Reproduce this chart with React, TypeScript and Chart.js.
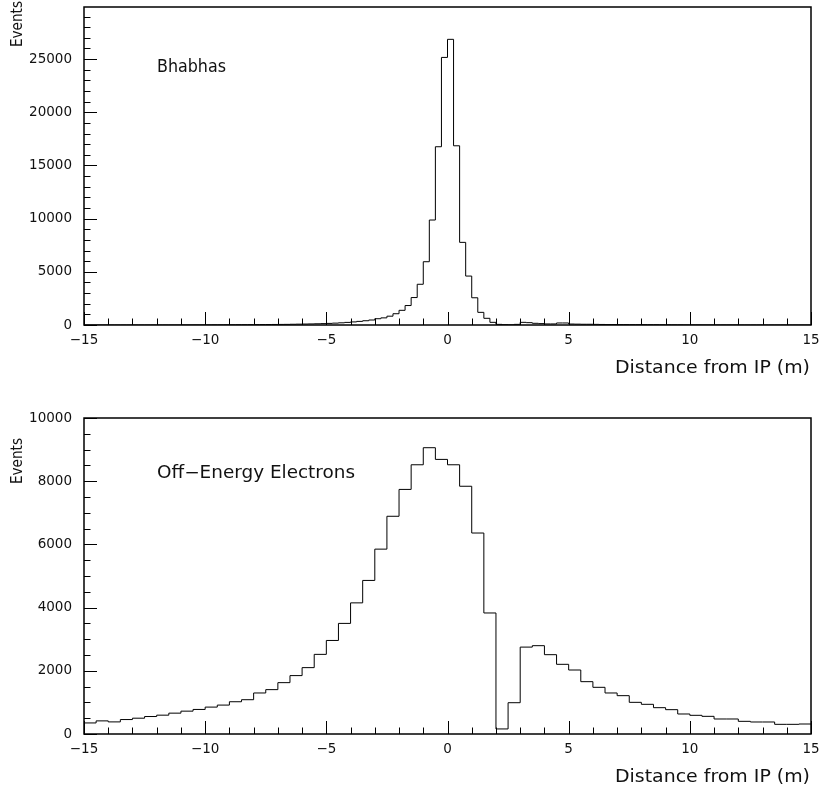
import React, { useEffect, useRef } from "react";
import { Chart, registerables } from "chart.js";

Chart.register(...registerables);

// ---------------- data ----------------
const X_MIN = -15;
const X_MAX = 15;
const xTickLabels = [-15, -10, -5, 0, 5, 10, 15];
const xAxisTitle = "Distance from IP (m)";
const yAxisTitle = "Events";

// Bhabhas: 120 bins of 0.25 m from -15 to 15
const bhabhaCounts = [
  0, 0, 0, 0, 0, 0, 0, 0, 0, 0, 0, 0, 0, 0, 0, 0, 5, 5, 8, 8,
  10, 15, 15, 20, 20, 25, 25, 30, 35, 40, 45, 50, 55, 60, 70, 80, 90, 100, 115, 130,
  150, 175, 205, 245, 290, 340, 400, 470,
  590, 670, 830, 1060, 1380, 1830, 2580, 3830, 5950, 9870, 16760, 25160, 26860, 16850, 7770, 4600, 2560, 1190, 630, 250,
  60, 30, 20, 60, 250, 220, 160, 130, 100, 100, 190, 190, 90, 80, 70, 70, 60, 50, 40, 40,
  35, 35, 30, 30, 30, 25, 25, 20,
  20, 15, 15, 10, 10, 10, 5, 5,
  5, 5, 5, 5, 0, 0, 0, 0, 0, 0, 0, 0, 0, 0, 0, 0,
];
const bhabhaYTicks = [0, 5000, 10000, 15000, 20000, 25000];
const bhabhaYMax = 29900;
const bhabhaLabel = "Bhabhas";

// Off-energy electrons: 60 bins of 0.5 m from -15 to 15
const offEnergyCounts = [
  350, 415, 383, 457, 500, 553, 596, 660, 723, 777,
  851, 915, 1021, 1085, 1298, 1404, 1625, 1848, 2100, 2520,
  2960, 3500, 4150, 4860, 5850, 6890, 7740, 8520, 9060, 8690,
  8520, 7840, 6360, 3830, 160, 990, 2750, 2795, 2510, 2205,
  2025, 1656, 1477, 1298, 1213, 1002, 939, 833, 770, 633,
  591, 559, 475, 475, 401, 380, 380, 306, 306, 316,
];
const offEnergyYTicks = [0, 2000, 4000, 6000, 8000, 10000];
const offEnergyYMax = 10000;
const offEnergyLabel = "Off\u2212Energy Electrons";

// ---------------- helpers ----------------
const FONT = '"DejaVu Sans", "Liberation Sans", sans-serif';
const fmt = (v: number) => (v < 0 ? "\u2212" + Math.abs(v) : String(v));

function fitText(
  ctx: CanvasRenderingContext2D,
  text: string,
  x: number,
  y: number,
  size: number,
  targetWidth: number,
  align: "left" | "right" | "center",
  rotate = false
) {
  ctx.save();
  ctx.font = `${size}px ${FONT}`;
  const w = ctx.measureText(text).width;
  const sx = targetWidth > 0 ? targetWidth / w : 1;
  ctx.translate(x, y);
  if (rotate) ctx.rotate(-Math.PI / 2);
  ctx.scale(sx, 1);
  ctx.textAlign = align;
  ctx.textBaseline = "middle";
  ctx.fillStyle = "#111";
  ctx.fillText(text, 0, 0);
  ctx.restore();
}

const hbookPlugin = {
  id: "hbook",
  afterDraw(chart: any, _args: any, o: any) {
    const { ctx, chartArea: a } = chart;
    const xs = chart.scales.x;
    const ys = chart.scales.y;
    ctx.save();
    ctx.strokeStyle = "#000";
    ctx.lineWidth = 1;
    ctx.beginPath();
    for (let v = X_MIN; v <= X_MAX; v += 1) {
      const px = Math.round(xs.getPixelForValue(v)) + 0.5;
      const len = v % 5 === 0 ? 13 : 6.5;
      ctx.moveTo(px, a.bottom);
      ctx.lineTo(px, a.bottom - len);
    }
    for (let v = 0; v <= o.yMax; v += o.yMinor) {
      const py = Math.round(ys.getPixelForValue(v)) + 0.5;
      const len = v % o.yMajor === 0 ? 13 : 6.5;
      ctx.moveTo(a.left, py);
      ctx.lineTo(a.left + len, py);
    }
    ctx.stroke();
    ctx.lineWidth = 1.5;
    ctx.strokeRect(a.left, a.top, a.right - a.left, a.bottom - a.top);
    ctx.restore();

    // tick labels
    ctx.save();
    ctx.fillStyle = "#111";
    ctx.font = `13.5px ${FONT}`;
    ctx.textBaseline = "middle";
    ctx.textAlign = "center";
    for (const v of xTickLabels) {
      ctx.fillText(fmt(v), xs.getPixelForValue(v), a.bottom + 15);
    }
    ctx.textAlign = "right";
    for (const v of o.yTicks) {
      ctx.fillText(String(v), a.left - 12, ys.getPixelForValue(v));
    }
    ctx.restore();

    // titles
    fitText(ctx, xAxisTitle, a.right - 1, a.bottom + 43, 18, 195, "right");
    fitText(ctx, yAxisTitle, 18, o.eventsY, 16, 46, "center", true);
    fitText(ctx, o.label, 157, o.labelY, 17, o.labelW, "left");
  },
};

type HistProps = {
  counts: number[];
  yMax: number;
  yTicks: number[];
  yMajor: number;
  yMinor: number;
  label: string;
  labelY: number;
  labelW: number;
  eventsY: number;
  padTop: number;
  padBottom: number;
  height: number;
};

function Hist(p: HistProps) {
  const ref = useRef<HTMLCanvasElement | null>(null);
  useEffect(() => {
    if (!ref.current) return;
    const n = p.counts.length;
    const w = (X_MAX - X_MIN) / n;
    const pts = p.counts.map((c, i) => ({ x: X_MIN + i * w, y: c }));
    pts.push({ x: X_MAX, y: p.counts[n - 1] });
    const chart = new Chart(ref.current, {
      type: "line",
      data: {
        datasets: [
          {
            data: pts,
            stepped: true,
            borderColor: "#000",
            borderWidth: 1,
            pointRadius: 0,
            fill: false,
          },
        ],
      },
      options: {
        animation: false,
        responsive: false,
        layout: { padding: { left: 84, right: 8, top: p.padTop, bottom: p.padBottom } },
        scales: {
          x: { type: "linear", min: X_MIN, max: X_MAX, display: false },
          y: { type: "linear", min: 0, max: p.yMax, display: false },
        },
        plugins: {
          legend: { display: false },
          tooltip: { enabled: false },
          hbook: {
            yMax: p.yMax,
            yTicks: p.yTicks,
            yMajor: p.yMajor,
            yMinor: p.yMinor,
            label: p.label,
            labelY: p.labelY,
            labelW: p.labelW,
            eventsY: p.eventsY,
          },
        } as any,
      },
      plugins: [hbookPlugin],
    });
    return () => chart.destroy();
  }, []);
  return <canvas ref={ref} width={819} height={p.height} style={{ display: "block" }} />;
}

export default function App() {
  return (
    <div style={{ position: "absolute", left: 0, top: 0, width: 819, height: 788, background: "#fff" }}>
      <Hist
        counts={bhabhaCounts}
        yMax={bhabhaYMax}
        yTicks={bhabhaYTicks}
        yMajor={5000}
        yMinor={1000}
        label={bhabhaLabel}
        labelY={68}
        labelW={69}
        eventsY={24}
        padTop={7}
        padBottom={69}
        height={394}
      />
      <Hist
        counts={offEnergyCounts}
        yMax={offEnergyYMax}
        yTicks={offEnergyYTicks}
        yMajor={2000}
        yMinor={500}
        label={offEnergyLabel}
        labelY={80}
        labelW={198}
        eventsY={67}
        padTop={24}
        padBottom={54}
        height={394}
      />
    </div>
  );
}
